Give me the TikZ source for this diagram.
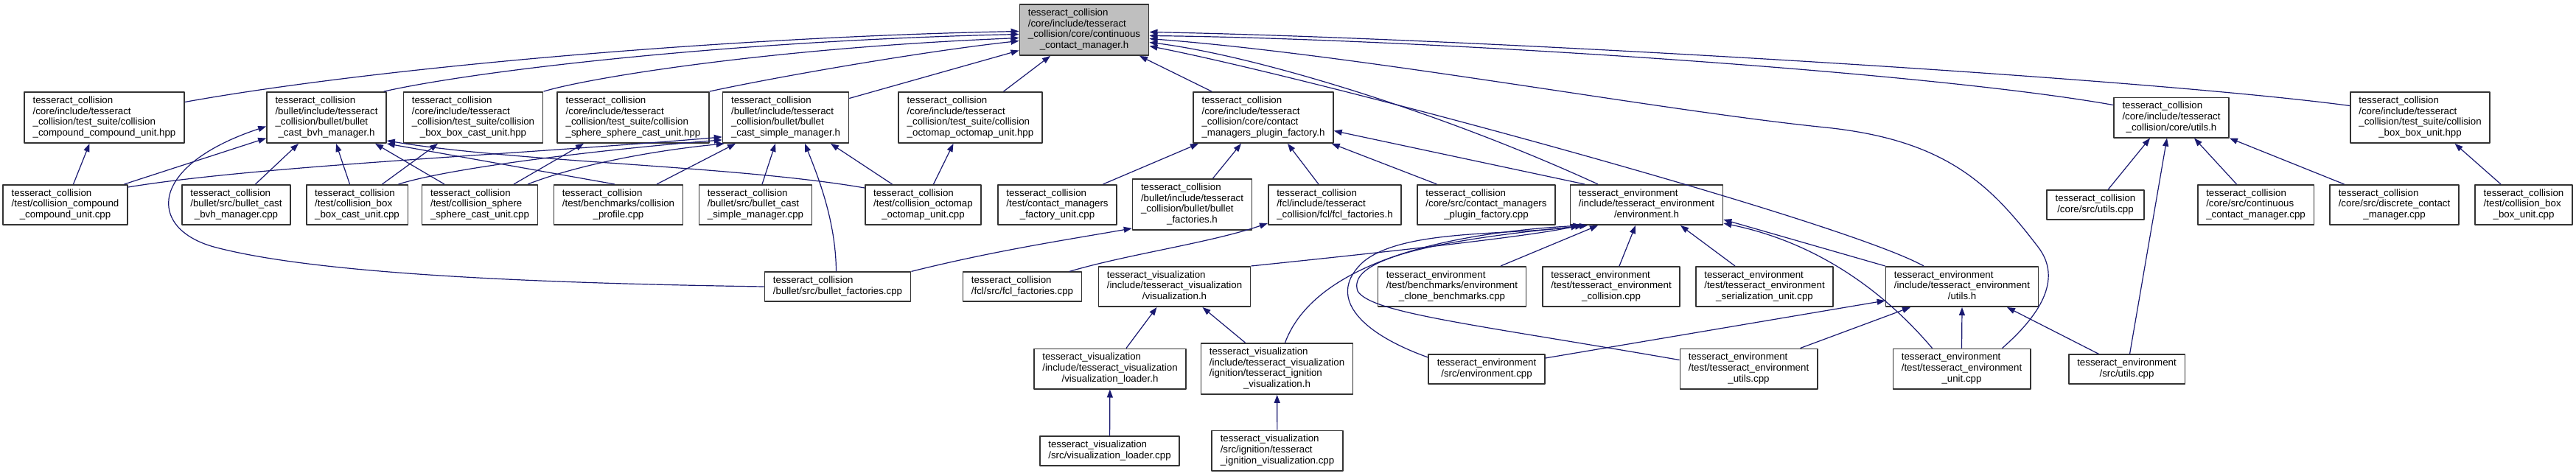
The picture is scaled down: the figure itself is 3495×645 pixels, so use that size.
\documentclass[tikz,border=0pt]{standalone}
\usepackage{fontspec}
\setmainfont{Liberation Sans}
\usetikzlibrary{arrows.meta}
\definecolor{azul}{HTML}{191970}
\definecolor{gris}{HTML}{BFBFBF}
% todas las lineas a la izquierda, la ultima centrada
\newcommand{\etiq}[2]{\begin{tabular}{@{}l@{}}#1\\\multicolumn{1}{@{}c@{}}{#2}\end{tabular}}
\tikzset{
  caja/.style={draw=black!80, line width=1.6pt, fill=white, inner xsep=11.5pt, inner ysep=5pt,
    font=\fontsize{13.3}{14.8}\selectfont},
  dep/.style={draw=azul, line width=1.2pt, -{Triangle[length=11pt,width=8pt]}},
}
\begin{document}
\begin{tikzpicture}[x=1pt, y=-1pt, line join=round]
  \useasboundingbox (0,0) rectangle (3495,645);
  % el fichero de arriba
  \node[caja, fill=gris] (cm) at (1471,40.5) {\etiq{tesseract\_collision\\/core/include/tesseract\\\_collision/core/continuous}{\_contact\_manager.h}};
  % segunda fila
  \node[caja] (cmpH) at (141.5,159.5) {\etiq{tesseract\_collision\\/core/include/tesseract\\\_collision/test\_suite/collision}{\_compound\_compound\_unit.hpp}};
  \node[caja] (bvhH) at (443,159.5) {\etiq{tesseract\_collision\\/bullet/include/tesseract\\\_collision/bullet/bullet}{\_cast\_bvh\_manager.h}};
  \node[caja] (bxcH) at (642,159.5) {\etiq{tesseract\_collision\\/core/include/tesseract\\\_collision/test\_suite/collision}{\_box\_box\_cast\_unit.hpp}};
  \node[caja] (sphH) at (859,159.5) {\etiq{tesseract\_collision\\/core/include/tesseract\\\_collision/test\_suite/collision}{\_sphere\_sphere\_cast\_unit.hpp}};
  \node[caja] (simH) at (1066,159.5) {\etiq{tesseract\_collision\\/bullet/include/tesseract\\\_collision/bullet/bullet}{\_cast\_simple\_manager.h}};
  \node[caja] (octH) at (1316.5,159.5) {\etiq{tesseract\_collision\\/core/include/tesseract\\\_collision/test\_suite/collision}{\_octomap\_octomap\_unit.hpp}};
  \node[caja] (facH) at (1714,159.5) {\etiq{tesseract\_collision\\/core/include/tesseract\\\_collision/core/contact}{\_managers\_plugin\_factory.h}};
  \node[caja] (utlH) at (2946,159.5) {\etiq{tesseract\_collision\\/core/include/tesseract}{\_collision/core/utils.h}};
  \node[caja] (bxbH) at (3283.5,159.5) {\etiq{tesseract\_collision\\/core/include/tesseract\\\_collision/test\_suite/collision}{\_box\_box\_unit.hpp}};
  % tercera fila
  \node[caja] (cmpC) at (88.5,278) {\etiq{tesseract\_collision\\/test/collision\_compound}{\_compound\_unit.cpp}};
  \node[caja] (bvhC) at (320.5,278) {\etiq{tesseract\_collision\\/bullet/src/bullet\_cast}{\_bvh\_manager.cpp}};
  \node[caja] (bxcC) at (484.5,278) {\etiq{tesseract\_collision\\/test/collision\_box}{\_box\_cast\_unit.cpp}};
  \node[caja] (sphC) at (651,278) {\etiq{tesseract\_collision\\/test/collision\_sphere}{\_sphere\_cast\_unit.cpp}};
  \node[caja] (prfC) at (839,278) {\etiq{tesseract\_collision\\/test/benchmarks/collision}{\_profile.cpp}};
  \node[caja] (simC) at (1025,278) {\etiq{tesseract\_collision\\/bullet/src/bullet\_cast}{\_simple\_manager.cpp}};
  \node[caja] (octC) at (1252.5,278) {\etiq{tesseract\_collision\\/test/collision\_octomap}{\_octomap\_unit.cpp}};
  \node[caja] (facC) at (1434.5,278) {\etiq{tesseract\_collision\\/test/contact\_managers}{\_factory\_unit.cpp}};
  \node[caja] (bfH) at (1617.5,277.5) {\etiq{tesseract\_collision\\/bullet/include/tesseract\\\_collision/bullet/bullet}{\_factories.h}};
  \node[caja] (ffH) at (1811,278) {\etiq{tesseract\_collision\\/fcl/include/tesseract}{\_collision/fcl/fcl\_factories.h}};
  \node[caja] (pfC) at (2016.5,278) {\etiq{tesseract\_collision\\/core/src/contact\_managers}{\_plugin\_factory.cpp}};
  \node[caja] (envH) at (2234,278) {\etiq{tesseract\_environment\\/include/tesseract\_environment}{/environment.h}};
  \node[caja] (utlC) at (2843,278) {\etiq{tesseract\_collision}{/core/src/utils.cpp}};
  \node[caja] (ccmC) at (3060.5,278) {\etiq{tesseract\_collision\\/core/src/continuous}{\_contact\_manager.cpp}};
  \node[caja] (dcmC) at (3248.5,278) {\etiq{tesseract\_collision\\/core/src/discrete\_contact}{\_manager.cpp}};
  \node[caja] (bxbC) at (3424,278) {\etiq{tesseract\_collision\\/test/collision\_box}{\_box\_unit.cpp}};
  % cuarta fila
  \node[caja] (bfC) at (1136.5,389) {\etiq{tesseract\_collision}{/bullet/src/bullet\_factories.cpp}};
  \node[caja] (ffC) at (1387,389) {\etiq{tesseract\_collision}{/fcl/src/fcl\_factories.cpp}};
  \node[caja] (visH) at (1593.5,389) {\etiq{tesseract\_visualization\\/include/tesseract\_visualization}{/visualization.h}};
  \node[caja] (clnC) at (1970,389) {\etiq{tesseract\_environment\\/test/benchmarks/environment}{\_clone\_benchmarks.cpp}};
  \node[caja] (ecoC) at (2186,389) {\etiq{tesseract\_environment\\/test/tesseract\_environment}{\_collision.cpp}};
  \node[caja] (serC) at (2394,389) {\etiq{tesseract\_environment\\/test/tesseract\_environment}{\_serialization\_unit.cpp}};
  \node[caja] (eutH) at (2662,389) {\etiq{tesseract\_environment\\/include/tesseract\_environment}{/utils.h}};
  % quinta y sexta fila
  \node[caja] (vlH) at (1506,500.5) {\etiq{tesseract\_visualization\\/include/tesseract\_visualization}{/visualization\_loader.h}};
  \node[caja] (ignH) at (1732.5,500.5) {\etiq{tesseract\_visualization\\/include/tesseract\_visualization\\/ignition/tesseract\_ignition}{\_visualization.h}};
  \node[caja] (envC) at (2017,501) {\etiq{tesseract\_environment}{/src/environment.cpp}};
  \node[caja] (eutC) at (2372.5,500.5) {\etiq{tesseract\_environment\\/test/tesseract\_environment}{\_utils.cpp}};
  \node[caja] (eunC) at (2661.5,500.5) {\etiq{tesseract\_environment\\/test/tesseract\_environment}{\_unit.cpp}};
  \node[caja] (eusC) at (2885.5,501) {\etiq{tesseract\_environment}{/src/utils.cpp}};
  \node[caja] (vlC) at (1505.5,612) {\etiq{tesseract\_visualization}{/src/visualization\_loader.cpp}};
  \node[caja] (ignC) at (1733,611.5) {\etiq{tesseract\_visualization\\/src/ignition/tesseract}{\_ignition\_visualization.cpp}};

  % los que incluyen el fichero de arriba
  \draw[dep] ([yshift=21pt]cmpH.east) .. controls (520,90) and (1000,50) .. ([yshift=-2pt]cm.west);
  \draw[dep] ([xshift=-4pt]bvhH.north east) .. controls (650,95) and (1000,55) .. ([yshift=-6pt]cm.west);
  \draw[dep] (bxcH.north east) .. controls (800,105) and (1050,65) .. ([yshift=-11pt]cm.west);
  \draw[dep] (sphH.north east) .. controls (1050,105) and (1250,70) .. ([yshift=-15pt]cm.west);
  \draw[dep] ([yshift=26pt]simH.east) -- ([yshift=-28pt]cm.west);
  \draw[dep] ([xshift=45pt]octH.north) -- ([xshift=-46pt]cm.south);
  \draw[dep] ([xshift=-70pt]facH.north) -- ([xshift=75pt]cm.south);
  \draw[dep] ([yshift=16pt]bxbH.west) .. controls (2900,105) and (2000,52) .. ([yshift=-3pt]cm.east);
  \draw[dep] ([yshift=17pt]utlH.west) .. controls (2600,95) and (1900,52) .. ([yshift=-8pt]cm.east);
  \draw[dep] ([xshift=55pt]eunC.north) .. controls (2765,430) and (2800,380) .. (2765,335)
    .. controls (2700,250) and (2640,190) .. (2477,173)
    .. controls (2250,150) and (1850,75) .. ([yshift=-12pt]cm.east);
  \draw[dep] ([xshift=-66pt]envH.north) .. controls (1950,150) and (1700,75) .. ([yshift=-17pt]cm.east);
  \draw[dep] ([xshift=-52pt]eutH.north) .. controls (2500,300) and (1800,110) .. ([yshift=-22pt]cm.east);

  % contact managers plugin factory
  \draw[dep] ([xshift=62pt]facC.north) -- ([xshift=-88pt]facH.south);
  \draw[dep] ([xshift=28pt]bfH.north) -- ([xshift=-30pt]facH.south);
  \draw[dep] ([xshift=-22pt]ffH.north) -- ([xshift=33pt]facH.south);
  \draw[dep] ([xshift=-67pt]pfC.north) -- ([xshift=-3pt]facH.south east);
  \draw[dep] ([xshift=-84pt]envH.north) -- ([yshift=-18pt]facH.east);

  % bullet bvh y simple
  \draw[dep] ([xshift=80pt]cmpC.north) -- ([yshift=-28pt]bvhH.west);
  \draw[dep] ([xshift=26pt]bvhC.north) -- ([xshift=-38pt]bvhH.south);
  \draw[dep] ([xshift=-10pt]bxcC.north) -- ([xshift=13pt]bvhH.south);
  \draw[dep] ([xshift=-48pt]sphC.north) -- ([xshift=66pt]bvhH.south);
  \draw[dep] ([xshift=-5pt]prfC.north) -- (bvhH.south east);
  \draw[dep] ([yshift=23pt]octC.west) .. controls (1000,225) and (700,220) .. ([yshift=4pt]bvhH.south east);
  \draw[dep] (bfC.west) .. controls (700,384) and (420,370) .. (290,335)
    .. controls (200,310) and (200,225) .. ([yshift=-12pt]bvhH.west);
  \draw[dep] ([yshift=24pt]cmpC.east) .. controls (350,225) and (700,210) .. ([yshift=9pt]simH.south west);
  \draw[dep] ([xshift=56pt]bxcC.north) .. controls (620,225) and (850,200) .. ([yshift=5pt]simH.south west);
  \draw[dep] ([xshift=65pt]sphC.north) .. controls (780,225) and (880,205) .. ([xshift=3pt]simH.south west);
  \draw[dep] ([xshift=52pt]prfC.north) -- ([xshift=-68pt]simH.south);
  \draw[dep] ([xshift=9pt]simC.north) -- ([xshift=-14pt]simH.south);
  \draw[dep] ([xshift=-2pt]bfC.north) .. controls (1134,300) and (1110,240) .. ([xshift=26pt]simH.south);
  \draw[dep] ([xshift=-42pt]octC.north) -- ([xshift=61pt]simH.south);

  % test suites y factories
  \draw[dep] ([xshift=11pt]cmpC.north) -- ([xshift=-20pt]cmpH.south);
  \draw[dep] ([xshift=34pt]bxcC.north) -- ([xshift=-48pt]bxcH.south);
  \draw[dep] ([xshift=46pt]sphC.north) -- ([xshift=-67pt]sphH.south);
  \draw[dep] ([xshift=14pt]octC.north) -- ([xshift=-23pt]octH.south);
  \draw[dep] (bfC.north east) .. controls (1350,340) and (1450,325) .. ([yshift=3pt]bfH.south west);
  \draw[dep] ([xshift=64pt]ffC.north) .. controls (1530,345) and (1640,330) .. ([yshift=3pt]ffH.south west);

  % core utils y box box
  \draw[dep] ([xshift=17pt]utlC.north) -- ([xshift=-29pt]utlH.south);
  \draw[dep] ([xshift=4pt]eusC.north) -- ([xshift=-6pt]utlH.south);
  \draw[dep] ([xshift=-26pt]ccmC.north) -- ([xshift=31pt]utlH.south);
  \draw[dep] ([xshift=-68pt]dcmC.north) -- (utlH.south east);
  \draw[dep] ([xshift=-31pt]bxbC.north) -- ([xshift=47pt]bxbH.south);

  % environment.h
  \draw[dep] (visH.north east) .. controls (1900,340) and (2080,320) .. ([xshift=-92pt]envH.south);
  \draw[dep] ([xshift=11pt]ignH.north) .. controls (1775,380) and (1900,320) .. ([xshift=-89pt]envH.south);
  \draw[dep] ([yshift=16pt]envC.west) .. controls (1840,450) and (1800,400) .. (1850,355)
    .. controls (1905,310) and (2050,320) .. ([xshift=-86pt]envH.south);
  \draw[dep] ([yshift=12pt]eutC.west) .. controls (2000,440) and (1860,425) .. (1842,395)
    .. controls (1830,360) and (1900,330) .. ([xshift=-80pt]envH.south);
  \draw[dep] ([xshift=66pt]clnC.north) -- ([xshift=-66pt]envH.south);
  \draw[dep] ([xshift=11pt]ecoC.north) -- ([xshift=-15pt]envH.south);
  \draw[dep] ([xshift=-40pt]serC.north) -- ([xshift=46pt]envH.south);
  \draw[dep] (eutH.north west) -- ([yshift=-20pt]envH.east);
  \draw[dep] ([xshift=-40pt]eunC.north) .. controls (2560,400) and (2470,330) .. ([yshift=-25pt]envH.east);

  % environment utils.h
  \draw[dep] ([yshift=15pt]envC.east) -- ([yshift=-19pt]eutH.west);
  \draw[dep] ([xshift=70pt]eutC.north) -- ([xshift=-70pt]eutH.south);
  \draw[dep] (eunC.north) -- (eutH.south);
  \draw[dep] ([xshift=-38pt]eusC.north) -- ([xshift=61pt]eutH.south);

  % visualization
  \draw[dep] ([xshift=22pt]vlH.north) -- ([xshift=-24pt]visH.south);
  \draw[dep] ([xshift=-43pt]ignH.north) -- ([xshift=38pt]visH.south);
  \draw[dep] (vlC) -- (vlH);
  \draw[dep] (ignC) -- (ignH);
\end{tikzpicture}
\end{document}
